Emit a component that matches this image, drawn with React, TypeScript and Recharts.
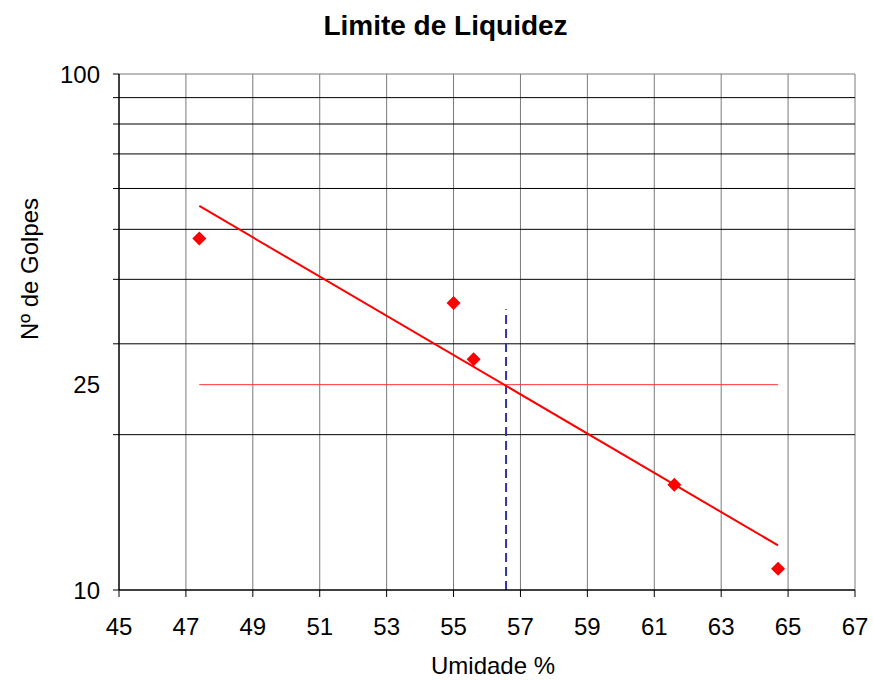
import React from 'react';
import { ComposedChart, XAxis, YAxis, Scatter, Line, ReferenceLine } from 'recharts';

const moisture = [47.4, 55.0, 55.6, 61.6, 64.7];
const blows = [48, 36, 28, 16, 11];
const trendMoisture = [47.4, 64.7];
const trendBlows = [55.5, 12.2];
const targetBlows = 25;
const liquidLimit = 56.57;
const markerTop = 35;
const xTicks = [45, 47, 49, 51, 53, 55, 57, 59, 61, 63, 65, 67];
const yTicks = [10, 20, 25, 30, 40, 50, 60, 70, 80, 90, 100];
const yLabeled = [10, 25, 100];
const yGrid = [20, 30, 40, 50, 60, 70, 80, 90, 100];
const xGrid = [47, 49, 51, 53, 55, 57, 59, 61, 63, 65, 67];

const pointData = moisture.map((x, i) => ({ x, y: blows[i] }));
const trendData = trendMoisture.map((x, i) => ({ x, y: trendBlows[i] }));

const FONT = '"Liberation Sans", Arial, sans-serif';

const YTick = (props: any) => {
  const { x, y, payload } = props;
  const v = payload.value;
  return (
    <g>
      {v !== targetBlows && <line x1={x - 6} x2={x} y1={y} y2={y} stroke="#000" strokeWidth={1} />}
      {yLabeled.includes(v) && (
        <text x={x - 19} y={y} dy="0.36em" textAnchor="end" fontSize={24} fontFamily={FONT} fill="#000">
          {v}
        </text>
      )}
    </g>
  );
};

const Diamond = (props: any) => {
  const { cx, cy } = props;
  const r = 7;
  return <polygon points={`${cx},${cy - r} ${cx + r},${cy} ${cx},${cy + r} ${cx - r},${cy}`} fill="#ff0000" />;
};

export default function App() {
  return (
    <div style={{ position: 'absolute', left: 0, top: 0, width: 873, height: 680, background: '#fff' }}>
      <ComposedChart
        width={873}
        height={680}
        margin={{ top: 74, right: 18, left: 0, bottom: 0 }}
      >
        <XAxis
          dataKey="x"
          type="number"
          domain={[45, 67]}
          ticks={xTicks}
          interval={0}
          allowDataOverflow
          height={90}
          tickSize={7}
          tickMargin={21}
          axisLine={{ stroke: '#000', strokeWidth: 1.5 }}
          tickLine={{ stroke: '#000' }}
          tick={{ fill: '#000', fontSize: 24, fontFamily: FONT }}
        />
        <YAxis
          type="number"
          scale="log"
          domain={[10, 100]}
          ticks={yTicks}
          interval={0}
          allowDataOverflow
          width={119}
          tickSize={0}
          tickMargin={0}
          tickLine={false}
          axisLine={{ stroke: '#000', strokeWidth: 1.5 }}
          tick={<YTick />}
        />
        {xGrid.map((v) => (
          <ReferenceLine key={'xg' + v} x={v} stroke="#7a7a7a" strokeWidth={1} />
        ))}
        {yGrid.map((v) => (
          <ReferenceLine key={'yg' + v} y={v} stroke={v === 100 ? '#7a7a7a' : '#000'} strokeWidth={1} />
        ))}
        <ReferenceLine
          segment={[
            { x: trendMoisture[0], y: targetBlows },
            { x: trendMoisture[1], y: targetBlows },
          ]}
          stroke="#ff3333"
          strokeWidth={1}
        />
        <ReferenceLine
          segment={[
            { x: liquidLimit, y: 10 },
            { x: liquidLimit, y: markerTop },
          ]}
          stroke="#333399"
          strokeWidth={2}
          strokeDasharray="9 5"
        />
        <Line
          data={trendData}
          dataKey="y"
          stroke="#ff0000"
          strokeWidth={2}
          dot={false}
          isAnimationActive={false}
        />
        <Scatter data={pointData} dataKey="y" shape={<Diamond />} isAnimationActive={false} />
      </ComposedChart>
      <svg width={873} height={680} style={{ position: 'absolute', left: 0, top: 0, pointerEvents: 'none' }}>
        <text x={445.5} y={35} textAnchor="middle" fontSize={28} fontWeight="bold" fontFamily={FONT} fill="#000">
          Limite de Liquidez
        </text>
        <text x={493} y={674} textAnchor="middle" fontSize={24} fontFamily={FONT} fill="#000">
          Umidade %
        </text>
        <text
          x={38}
          y={269}
          textAnchor="middle"
          fontSize={24}
          fontFamily={FONT}
          fill="#000"
          transform="rotate(-90 38 269)"
        >
          Nº de Golpes
        </text>
      </svg>
    </div>
  );
}
